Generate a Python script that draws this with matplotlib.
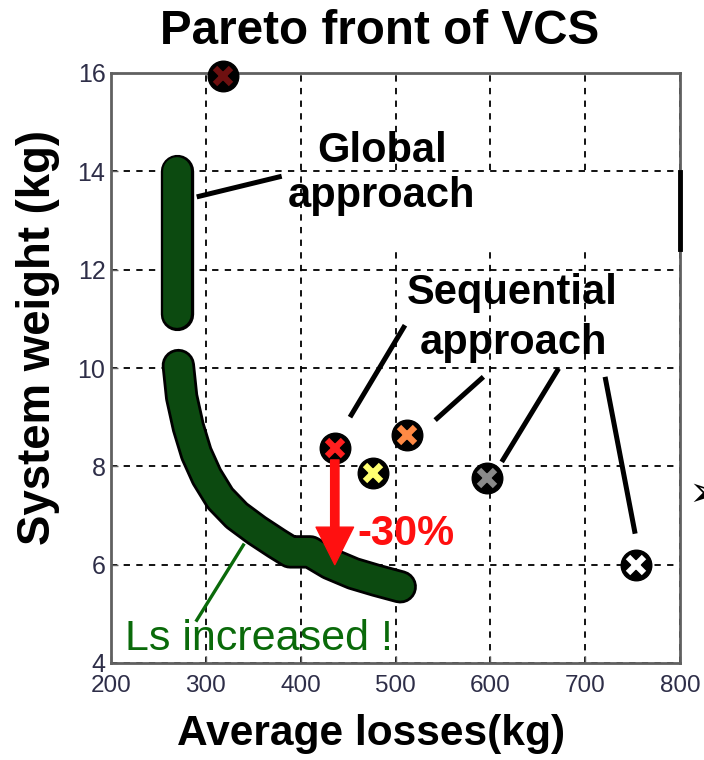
import matplotlib
matplotlib.use("Agg")
import matplotlib.pyplot as plt
import matplotlib.patheffects as pe
from matplotlib.patches import Rectangle

SANS = "Liberation Sans"

# ---------------- data ----------------
title = "Pareto front of VCS"
xlabel = "Average losses(kg)"
ylabel = "System weight (kg)"
xticks = [200, 300, 400, 500, 600, 700, 800]
yticks = [4, 6, 8, 10, 12, 14, 16]

# Global approach: upper vertical group
glob_top_x = [270, 270, 270, 270, 270]
glob_top_y = [11.1, 11.8, 12.5, 13.3, 14.0]
# Global approach: lower curve
glob_x = [271, 274.5, 281.5, 290, 301, 315, 332.5, 353.5, 374.8, 389, 410, 431, 455.6, 480, 505]
glob_y = [10.05, 9.41, 8.80, 8.26, 7.79, 7.35, 7.00, 6.70, 6.43, 6.26, 6.26, 6.02, 5.82, 5.68, 5.55]

# Sequential approach points
seq_x = [318, 436, 476, 512, 597, 754]
seq_y = [15.93, 8.37, 7.86, 8.63, 7.76, 6.00]
seq_colors = ["#6e1010", "#ff1f1f", "#ffff70", "#ff8a45", "#8a8a8a", "#ffffff"]

# ---------------- figure ----------------
fig = plt.figure(figsize=(7.04, 7.6), dpi=100)
ax = fig.add_axes([111/704, 97/760, 569/704, 590/760])
ax.set_xlim(200, 800)
ax.set_ylim(4, 16)
ax.set_xticks(xticks)
ax.set_yticks(yticks)
ax.grid(True, color="black", linestyle=(0, (3.5, 3.5)), linewidth=1.3, zorder=0)
ax.set_axisbelow(True)
for s in ax.spines.values():
    s.set_color("#606060")
    s.set_linewidth(2)
ax.tick_params(direction="in", length=5, width=1, colors="#606060", labelcolor="#2e2e48")
ax.set_xticklabels([str(v) for v in xticks], fontfamily=SANS, fontsize=17.5)
ax.set_yticklabels([str(v) for v in yticks], fontfamily=SANS, fontsize=18)
ax.tick_params(axis="x", pad=9)
ax.tick_params(axis="y", pad=4)

renderer = fig.canvas.get_renderer()

def fit(t, target_px, vertical=False):
    bb = t.get_window_extent(renderer)
    cur = bb.height if vertical else bb.width
    t.set_fontsize(t.get_fontsize() * target_px / cur)

tt = fig.text(380/704, 1 - 44/760, title, fontfamily=SANS, fontweight="bold", fontsize=32,
              ha="center", va="baseline")
fit(tt, 440)
xl = fig.text(371.5/704, 1 - 745/760, xlabel, fontfamily=SANS, fontweight="bold", fontsize=31,
              ha="center", va="baseline")
fit(xl, 387)
yl = fig.text(50/704, 1 - 337.5/760, ylabel, fontfamily=SANS, fontweight="bold", fontsize=31,
              ha="center", va="baseline", rotation=90, rotation_mode="anchor")
fit(yl, 415, vertical=True)

# white box behind "Global approach"
ax.add_patch(Rectangle((405, 12.42), 395, 1.56, facecolor="white", edgecolor="none", zorder=1))
ax.plot([800, 800], [12.42, 13.98], color="black", lw=3.5, clip_on=False, zorder=6)

# global approach band
green = "#0c4a10"
for xs, ys in [(glob_top_x, glob_top_y), (glob_x, glob_y)]:
    ax.plot(xs, ys, color=green, lw=20, solid_capstyle="round", solid_joinstyle="round",
            zorder=3, path_effects=[pe.Stroke(linewidth=24, foreground="black"), pe.Normal()])

# sequential markers
for x, y, c in zip(seq_x, seq_y, seq_colors):
    ax.plot([x], [y], marker="o", ms=22, color="black", mec="black", zorder=4, clip_on=False)
    ax.plot([x], [y], marker="x", ms=12, mew=4.5, color=c, zorder=5, clip_on=False)

# annotation lines
lk = dict(color="black", lw=3.6, solid_capstyle="butt", zorder=6)
ax.plot([290.4, 380], [13.48, 13.90], **lk)
ax.plot([452, 510], [9.0, 10.87], **lk)
ax.plot([541.8, 592.7], [8.94, 9.82], **lk)
ax.plot([612, 672], [8.09, 9.99], **lk)
ax.plot([752.7, 721], [6.63, 9.82], **lk)
ax.plot([290.4, 339.6], [4.87, 6.40], color="#0a6a0a", lw=2.4, zorder=6)

# red arrow
ax.annotate("", xy=(436, 6.0), xytext=(436, 8.13),
            arrowprops=dict(arrowstyle="simple,head_length=2.7,head_width=2.7,tail_width=0.6",
                            color="#ff1010", mutation_scale=10, shrinkA=0, shrinkB=0), zorder=7)

# texts (data coordinates)
bold = dict(fontfamily=SANS, fontweight="bold", fontsize=30, color="black", ha="center",
            va="baseline", zorder=8)
ax.text(485.5, 14.195, "Global", **bold)
ax.text(485.5, 13.28, "approach", **bold)
ax.text(623.5, 11.31, "Sequential", **bold)
ax.text(624.0, 10.29, "approach", **bold)
ax.text(459.5, 6.40, "-30%", fontfamily=SANS, fontweight="bold", fontsize=30,
        color="#ff1010", ha="left", va="baseline", zorder=8)
ax.text(214.5, 4.26, "Ls increased !", fontfamily=SANS, fontsize=31,
        color="#0a6a0a", ha="left", va="baseline", zorder=8)

fig.text(688/704, 1 - 494/760, "\u27a2", fontfamily="DejaVu Sans", fontsize=30, ha="left", va="center")

fig.savefig("out.png", dpi=100)
